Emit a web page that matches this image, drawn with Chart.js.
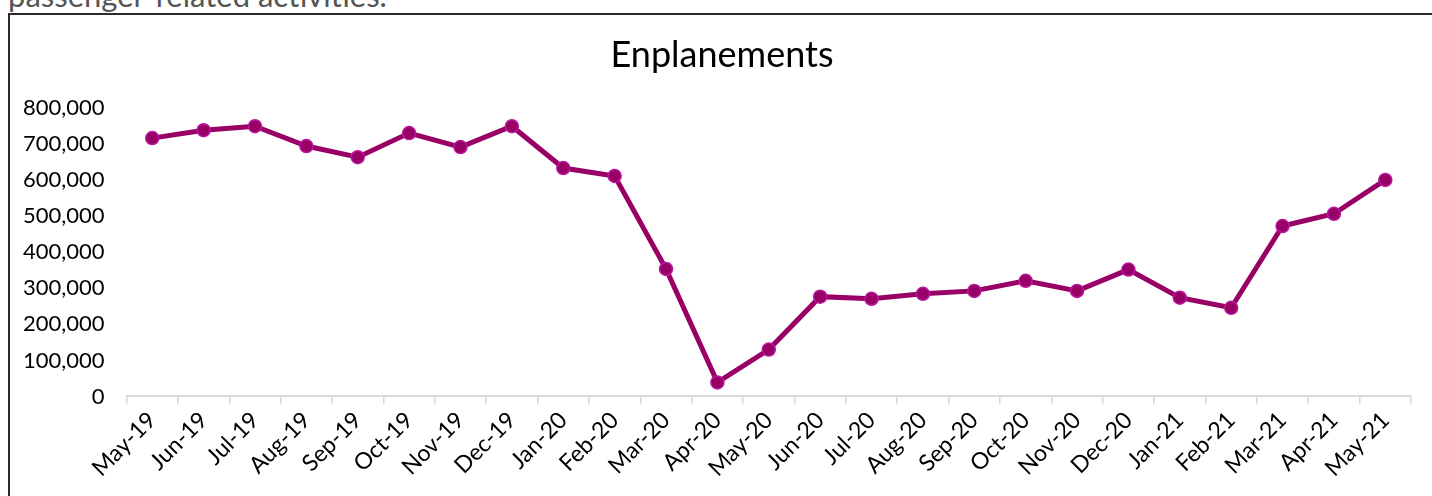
<!DOCTYPE html>
<html>
<head>
<meta charset="utf-8">
<script src="https://cdn.jsdelivr.net/npm/chart.js@4.4.0/dist/chart.umd.min.js"></script>
<style>
  html, body { margin: 0; padding: 0; background: #fff; overflow: hidden; }
  body { width: 1432px; height: 496px; position: relative; font-family: Lato, sans-serif; }
  .intro { position: absolute; left: 8px; top: -23px; font-size: 31px; line-height: 36px; color: #555; white-space: nowrap; }
  .box { position: absolute; left: 8px; top: 13px; width: 1440px; height: 500px; border: 2px solid #2b2b2b; box-sizing: border-box; }
  .wrap { position: absolute; left: -12px; top: 15px; width: 1444px; height: 481px; }
</style>
</head>
<body>
<div class="intro">passenger-related activities.</div>
<div class="box"></div>
<div class="wrap"><canvas id="line-chart"></canvas></div>
<script>
// monthly enplanements
var months = ["May-19", "Jun-19", "Jul-19", "Aug-19", "Sep-19", "Oct-19", "Nov-19", "Dec-19",
              "Jan-20", "Feb-20", "Mar-20", "Apr-20", "May-20", "Jun-20", "Jul-20", "Aug-20",
              "Sep-20", "Oct-20", "Nov-20", "Dec-20", "Jan-21", "Feb-21", "Mar-21", "Apr-21", "May-21"];
var enplanements = [717000, 739000, 750000, 695000, 664000, 731000, 692000, 750000,
                    634000, 612000, 354000, 39000, 130000, 277000, 271000, 285000,
                    293000, 321000, 293000, 352000, 274000, 246000, 473000, 507000, 601000];
var yTicks = [0, 100000, 200000, 300000, 400000, 500000, 600000, 700000, 800000];

// y labels hang out left of the (narrowed) axis box, so widen its clip area after layout
var unclipY = {
    id: "unclipY",
    afterLayout: function(chart) {
        chart.scales.y.left -= 40;
    }
};

var ctx = document.getElementById("line-chart").getContext("2d");
var lineChart = new Chart(ctx, {
    type: "line",
    data: {
        labels: months,
        datasets: [
            {
                label: "Enplanements",
                data: enplanements,
                borderColor: "#990066",
                borderWidth: 5,
                backgroundColor: "#990066",
                pointBackgroundColor: "#990066",
                pointBorderColor: "#b8189f",
                pointBorderWidth: 1.5,
                pointRadius: 6.5,
                tension: 0
            }
        ]
    },
    plugins: [unclipY],
    options: {
        responsive: true,
        maintainAspectRatio: false,
        animation: false,
        layout: { padding: { left: 45, right: 21, top: 0, bottom: 12 } },
        plugins: {
            legend: { display: false },
            tooltip: { enabled: false },
            title: {
                display: true,
                text: "Enplanements",
                color: "#000",
                font: { family: "Lato", size: 36, weight: "normal" },
                padding: { top: 19, bottom: 31 }
            }
        },
        scales: {
            x: {
                offset: true,
                grid: { offset: true, drawOnChartArea: false, drawTicks: true, tickLength: 8, color: "#d9d9d9", lineWidth: 1.5 },
                border: { display: true, color: "#d9d9d9", width: 2 },
                ticks: {
                    color: "#000",
                    font: { family: "Lato", size: 23 },
                    minRotation: 45,
                    maxRotation: 45,
                    autoSkip: false,
                    padding: 2
                }
            },
            y: {
                min: 0,
                max: 800000,
                afterBuildTicks: function(axis) {
                    axis.ticks = yTicks.map(function(v) { return { value: v }; });
                },
                // narrower box keeps the title centred on the frame
                afterFit: function(scale) { scale.width = scale.width - 32; },
                grid: { display: false, drawTicks: false },
                border: { display: false },
                ticks: {
                    color: "#000",
                    font: { family: "Lato", size: 22 },
                    padding: 22,
                    callback: function(v) { return v.toLocaleString("en-US"); }
                }
            }
        }
    }
});
</script>
</body>
</html>
